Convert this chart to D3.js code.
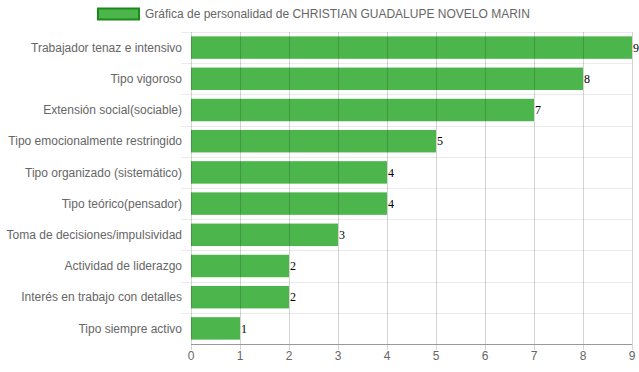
<!DOCTYPE html>
<html>
<head>
<meta charset="utf-8">
<script src="https://cdn.jsdelivr.net/npm/d3@7"></script>
<style>
  body { margin: 0; background: #fff; }
  text { font-family: "Liberation Sans", Arial, Helvetica, sans-serif; }
</style>
</head>
<body>
<svg id="chart" width="639" height="372"></svg>
<script>
"use strict";

const categories = [
    "Trabajador tenaz e intensivo",
    "Tipo vigoroso",
    "Extensión social(sociable)",
    "Tipo emocionalmente restringido",
    "Tipo organizado (sistemático)",
    "Tipo teórico(pensador)",
    "Toma de decisiones/impulsividad",
    "Actividad de liderazgo",
    "Interés en trabajo con detalles",
    "Tipo siempre activo"
];
const values = [9, 8, 7, 5, 4, 4, 3, 2, 2, 1];
const xTicks = [0, 1, 2, 3, 4, 5, 6, 7, 8, 9];
const seriesName = "Gráfica de personalidad de CHRISTIAN GUADALUPE NOVELO MARIN";

const svg = d3.select("#chart");
const margin = { top: 32, right: 7, bottom: 28, left: 191 };
const width = 639, height = 372;

const x = d3.scaleLinear().domain([0, 9]).range([margin.left, width - margin.right]);
const y = d3.scaleBand().domain(categories).range([margin.top, height - margin.bottom]);
const barH = y.bandwidth() * 0.72;

// horizontal grid lines (between categories)
svg.append("g").selectAll("line")
    .data(categories)
    .enter().append("line")
    .attr("x1", margin.left - 10)
    .attr("x2", width - margin.right)
    .attr("y1", d => Math.round(y(d)) + 0.5)
    .attr("y2", d => Math.round(y(d)) + 0.5)
    .attr("stroke", "#ebebeb");

// bars
svg.append("g").selectAll("rect")
    .data(values)
    .enter().append("rect")
    .attr("x", x(0))
    .attr("y", (d, i) => y(categories[i]) + (y.bandwidth() - barH) / 2)
    .attr("width", d => x(d) - x(0))
    .attr("height", barH)
    .attr("fill", "#4cb64c");

// vertical grid lines
svg.append("g").selectAll("line")
    .data(xTicks)
    .enter().append("line")
    .attr("x1", d => Math.round(x(d)) + 0.5)
    .attr("x2", d => Math.round(x(d)) + 0.5)
    .attr("y1", margin.top)
    .attr("y2", height - margin.bottom + 6)
    .attr("stroke", "rgba(0,0,0,0.17)");

// bottom axis line
svg.append("line")
    .attr("x1", margin.left)
    .attr("x2", width - margin.right)
    .attr("y1", height - margin.bottom + 0.5)
    .attr("y2", height - margin.bottom + 0.5)
    .attr("stroke", "#999");

// x tick labels
svg.append("g").selectAll("text")
    .data(xTicks)
    .enter().append("text")
    .attr("x", d => x(d))
    .attr("y", height - margin.bottom + 16)
    .attr("text-anchor", "middle")
    .attr("font-size", 12)
    .attr("fill", "#666")
    .text(d => d);

// y labels
svg.append("g").selectAll("text")
    .data(categories)
    .enter().append("text")
    .attr("x", margin.left - 9)
    .attr("y", d => y(d) + y.bandwidth() / 2)
    .attr("dy", "0.35em")
    .attr("text-anchor", "end")
    .attr("font-size", 12)
    .attr("fill", "#666")
    .text(d => d);

// value labels
svg.append("g").selectAll("text")
    .data(values)
    .enter().append("text")
    .attr("x", d => x(d) + 1)
    .attr("y", (d, i) => y(categories[i]) + y.bandwidth() / 2)
    .attr("dy", "0.35em")
    .attr("font-family", "'Liberation Serif', 'Times New Roman', serif")
    .style("font-family", "'Liberation Serif', 'Times New Roman', serif")
    .attr("font-size", 12)
    .attr("fill", "#000")
    .text(d => d);

// legend
svg.append("rect")
    .attr("x", 98).attr("y", 8.5)
    .attr("width", 41).attr("height", 11)
    .attr("fill", "#4cb64c")
    .attr("stroke", "#1a8a1a")
    .attr("stroke-width", 2);
svg.append("text")
    .attr("x", 145).attr("y", 14)
    .attr("dy", "0.35em")
    .attr("font-size", 12)
    .attr("fill", "#666")
    .text(seriesName);
</script>
</body>
</html>
